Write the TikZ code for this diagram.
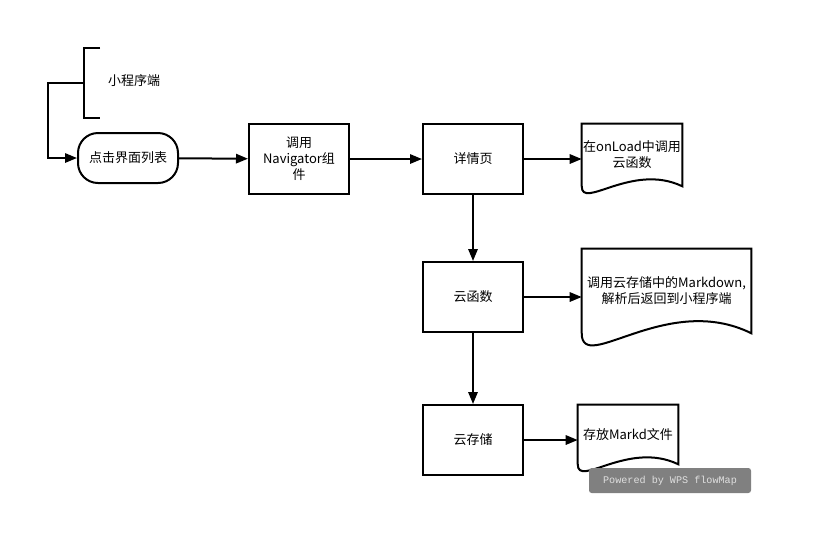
\documentclass[tikz,border=0pt]{standalone}
\usepackage{fontspec}
\setmainfont{Noto Sans CJK SC}
\newfontfamily\markfont{Liberation Mono}
\usetikzlibrary{arrows.meta}

\begin{document}
\begin{tikzpicture}[
    x=0.75pt, y=-0.75pt, every node/.style={font=\fontsize{9.75}{12}\selectfont, align=center},
    procNode/.style={rectangle, draw, line width=1.5pt, minimum width=75pt, minimum height=52.5pt, inner sep=0pt},
    termNode/.style={rectangle, draw, line width=1.5pt, rounded corners=15pt, minimum width=75pt, minimum height=37.5pt, inner sep=0pt},
    docNode/.style={rectangle, inner sep=0pt},
    docLine/.style={draw, line width=1.5pt, line join=miter},
    flow/.style={draw, line width=1.5pt, -{Triangle[length=9pt, width=7pt]}},
    markBox/.style={rectangle, fill=black!50, rounded corners=2pt, minimum width=121.5pt, minimum height=18.75pt, text=black!12, font=\markfont\fontsize{7.6}{9}\selectfont}
]
    \useasboundingbox[fill=white] (0,0) rectangle (813,537);

    % annotation
    \draw[line width=1.5pt] (100,48) -- (84,48) -- (84,118) -- (100,118);
    \coordinate (brk) at (84,83);
    \node (note) at (134,81) {小程序端};

    % main row
    \node[termNode] (list) at (128,158) {点击界面列表};
    \node[procNode] (nav) at (299,159) {调用\\Navigator组\\件};
    \node[procNode] (detail) at (473,159) {详情页};
    \node[docNode, minimum width=75pt, minimum height=46.5pt] (onload) at (632,155) {在onLoad中调用\\云函数};

    % cloud column
    \node[procNode] (func) at (473,297) {云函数};
    \node[docNode, minimum width=126.75pt, minimum height=63pt] (parse) at (666.5,291) {调用云存储中的Markdown,\\解析后返回到小程序端};
    \node[procNode] (store) at (473,440) {云存储};
    \node[docNode, minimum width=75pt, minimum height=44.25pt] (file) at (628,434.5) {存放Markd文件};

    % document outlines
    \draw[docLine] (onload.south west) -- (onload.north west) -- (onload.north east) -- (onload.south east)
        .. controls ++(-50,-24) and ++(0,24) .. (onload.south west);
    \draw[docLine] (parse.south west) -- (parse.north west) -- (parse.north east) -- (parse.south east)
        .. controls ++(-84.5,-42) and ++(0,42) .. (parse.south west);
    \draw[docLine] (file.south west) -- (file.north west) -- (file.north east) -- (file.south east)
        .. controls ++(-50,-24) and ++(0,24) .. (file.south west);

    % connectors
    \draw[flow] (brk) -- ++(-36,0) |- (list.west);
    \draw[flow] (list) -- (nav);
    \draw[flow] (nav) -- (detail);
    \draw[flow] (detail) -- (detail -| onload.west);
    \draw[flow] (detail) -- (func);
    \draw[flow] (func) -- (func -| parse.west);
    \draw[flow] (func) -- (store);
    \draw[flow] (store) -- (store -| file.west);

    \node[markBox] (mark) at (670,480.5) {Powered by WPS flowMap};
\end{tikzpicture}
\end{document}
